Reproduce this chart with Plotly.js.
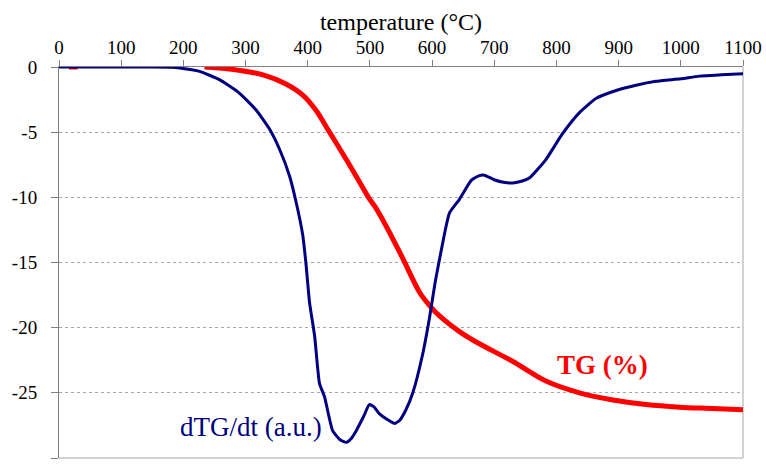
<!DOCTYPE html>
<html>
<head>
<meta charset="utf-8">
<script src="https://cdn.plot.ly/plotly-3.0.1.min.js"></script>
<style>html,body{margin:0;padding:0;background:#fff;}#chart{width:766px;height:464px;}</style>
</head>
<body>
<div id="chart"></div>
<script>
// dTG/dt curve (a.u.)
var dtgTemp = [0, 50, 100, 150, 180, 194, 226, 258, 290, 317, 339, 355, 371, 381, 392, 397, 403, 411, 419, 427, 440, 452, 462, 470, 478, 490, 499, 507, 515, 530, 540, 548, 558, 569, 585, 596, 605, 615, 628, 644, 663, 675, 684, 700, 715, 730, 745, 757, 783, 810, 837, 864, 896, 928, 960, 1000, 1030, 1065, 1100];
var dtgValue = [0, 0, 0, 0, -0.02, -0.08, -0.34, -0.97, -2.0, -3.3, -4.8, -6.35, -8.4, -10.3, -12.9, -15.0, -18.1, -20.6, -24.3, -25.3, -27.9, -28.6, -28.8, -28.5, -27.9, -26.8, -25.9, -26.1, -26.6, -27.1, -27.35, -27.1, -26.3, -25.0, -22.0, -19.2, -16.5, -14.0, -11.2, -10.15, -8.7, -8.35, -8.3, -8.65, -8.85, -8.9, -8.75, -8.5, -7.1, -5.1, -3.5, -2.4, -1.8, -1.4, -1.1, -0.9, -0.7, -0.6, -0.52];

// TG curve (%)
var tgTemp = [16, 30, null, 234, 274, 328, 365, 392, 413, 435, 462, 483, 499, 508, 526, 553, 580, 596, 612, 644, 671, 730, 783, 837, 891, 944, 998, 1051, 1100];
var tgValue = [0, 0, null, 0, -0.15, -0.6, -1.3, -2.15, -3.3, -5.0, -7.1, -8.8, -10.1, -10.7, -12.2, -14.7, -17.3, -18.3, -19.1, -20.3, -21.1, -22.6, -24.1, -25.0, -25.55, -25.9, -26.1, -26.2, -26.3];

var xTickVals = [0, 100, 200, 300, 400, 500, 600, 700, 800, 900, 1000, 1100];
var yTickVals = [0, -5, -10, -15, -20, -25, -30];

var serif = '"Times New Roman", "Liberation Serif", "DejaVu Serif", serif';

var traces = [
  {x: tgTemp, y: tgValue, type: 'scatter', mode: 'lines', connectgaps: false,
   line: {color: '#ff0000', width: 5, shape: 'spline', smoothing: 0.9}, hoverinfo: 'skip'},
  {x: dtgTemp, y: dtgValue, type: 'scatter', mode: 'lines',
   line: {color: '#000080', width: 3, shape: 'spline', smoothing: 0.5}, hoverinfo: 'skip'}
];

var layout = {
  width: 766, height: 464,
  margin: {l: 59, r: 23, t: 67, b: 6, pad: 0},
  paper_bgcolor: '#ffffff', plot_bgcolor: '#ffffff',
  showlegend: false,
  font: {family: serif, color: '#000000'},
  xaxis: {
    side: 'top', range: [0, 1100], tickvals: xTickVals, ticktext: xTickVals.map(String),
    ticks: 'outside', ticklen: 6, tickcolor: '#808080', tickwidth: 1,
    showline: true, linecolor: '#808080', linewidth: 1,
    showgrid: false, zeroline: false,
    tickfont: {family: serif, size: 19, color: '#000'},
    ticklabelstandoff: -2,
    title: {text: 'temperature (°C)', font: {family: serif, size: 24, color: '#000'}, standoff: 0}
  },
  yaxis: {
    range: [-30, 0], tickvals: yTickVals, ticktext: yTickVals.map(String),
    ticks: 'outside', ticklen: 7, tickcolor: '#808080', tickwidth: 1,
    showline: true, linecolor: '#808080', linewidth: 1,
    showgrid: true, gridcolor: '#a6a6a6', griddash: 'dot', gridwidth: 1,
    zeroline: false,
    tickfont: {family: serif, size: 19, color: '#000'},
    ticklabelstandoff: 10
  },
  shapes: [
    {type: 'line', xref: 'paper', yref: 'paper', x0: 1, x1: 1, y0: 0, y1: 1, line: {color: '#a6a6a6', width: 1}, layer: 'below'},
    {type: 'line', xref: 'paper', yref: 'paper', x0: 0, x1: 1, y0: 0, y1: 0, line: {color: '#a6a6a6', width: 1}, layer: 'below'}
  ],
  annotations: [
    {text: 'dTG/dt (a.u.)', x: 308, y: -27.6, xref: 'x', yref: 'y', showarrow: false,
     xanchor: 'center', yanchor: 'middle', font: {family: serif, size: 27, color: '#000080'}},
    {text: '<b>TG (%)</b>', x: 874, y: -22.85, xref: 'x', yref: 'y', showarrow: false,
     xanchor: 'center', yanchor: 'middle', font: {family: serif, size: 27, color: '#ff0000'}}
  ]
};

Plotly.newPlot('chart', traces, layout, {displayModeBar: false, staticPlot: true});
</script>
</body>
</html>
